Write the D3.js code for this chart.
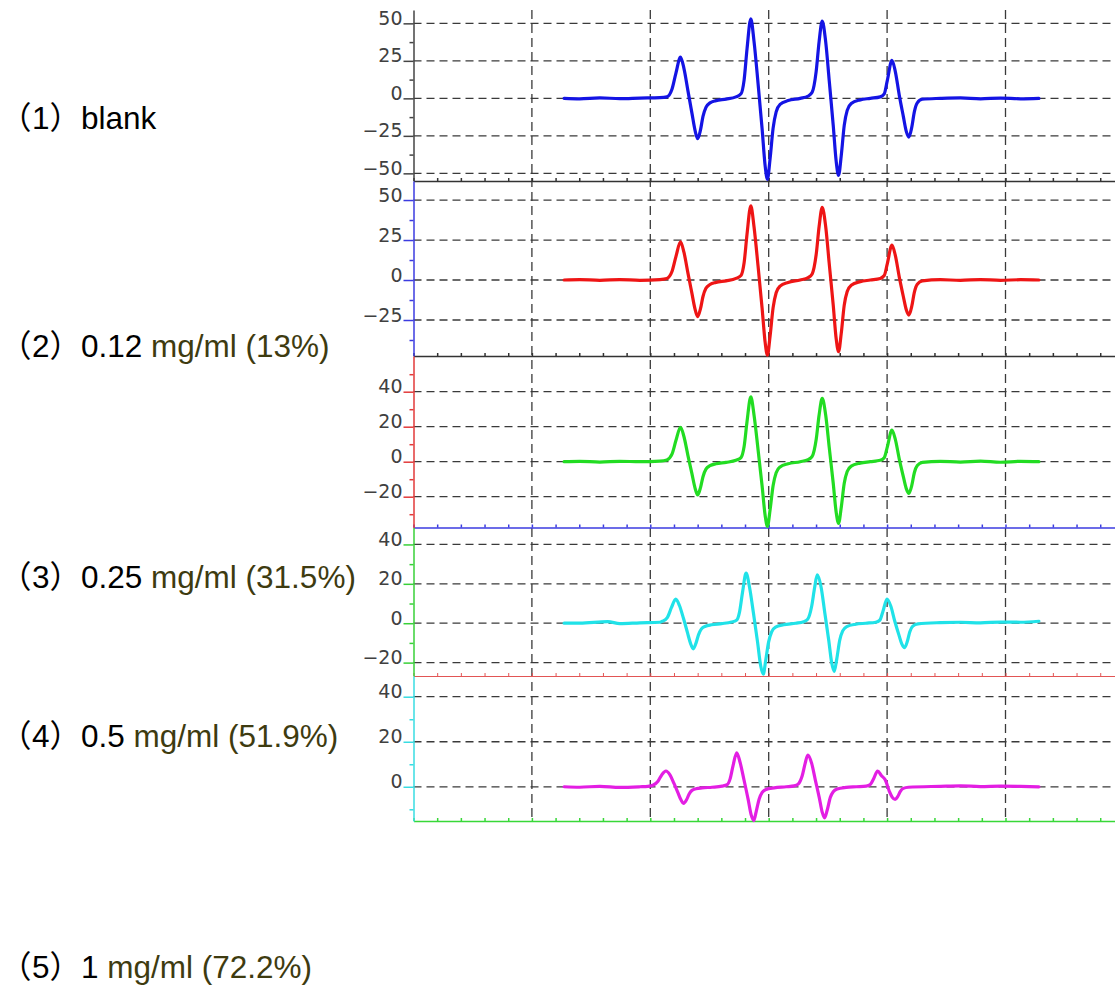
<!DOCTYPE html>
<html>
<head>
<meta charset="utf-8">
<script src="https://cdn.jsdelivr.net/npm/d3@7"></script>
<style>
  html, body { margin: 0; padding: 0; background: #fff; }
  svg { display: block; }
</style>
</head>
<body>
<svg id="chart" width="1115" height="987"></svg>
<script>
// ---- data: EPR spectra (field offset in G, signal in a.u.) ----
const sampleNo = ["1", "2", "3", "4", "5"];
const sampleConc = ["blank", "0.12", "0.25", "0.5", "1"];
const sampleUnit = ["", "mg/ml (13%)", "mg/ml (31.5%)", "mg/ml (51.9%)", "mg/ml (72.2%)"];

// field points shared by the first three scans
const fieldScanA = [12.72, 14.04, 15.74, 17.43, 19.12, 20.81, 21.40, 21.83, 22.17, 22.55, 22.84, 23.18,
  23.52, 23.77, 24.00, 24.24, 24.45, 24.70, 25.04, 25.55, 26.40, 27.24, 27.66, 27.92, 28.17, 28.49,
  28.76, 29.10, 29.44, 29.70, 29.89, 30.12, 30.37, 30.63, 30.96, 31.64, 32.66, 33.33, 33.67, 34.01,
  34.26, 34.52, 34.81, 35.11, 35.45, 35.70, 35.90, 36.13, 36.38, 36.63, 36.97, 37.73, 38.58, 39.42,
  39.76, 40.02, 40.41, 40.69, 41.03, 41.37, 41.62, 41.84, 42.09, 42.30, 42.55, 42.98, 44.50, 46.19,
  47.88, 49.58, 51.27, 52.82];
const fieldScanB = [12.72, 14.04, 16.41, 17.43, 19.12, 20.81, 21.02, 21.45, 21.79, 22.15, 22.46, 22.80,
  23.14, 23.39, 23.63, 23.86, 24.07, 24.32, 24.66, 25.17, 26.02, 26.86, 27.28, 27.54, 27.79, 28.09,
  28.38, 28.72, 29.06, 29.32, 29.54, 29.74, 29.99, 30.25, 30.58, 31.26, 32.28, 32.95, 33.29, 33.63,
  33.88, 34.10, 34.43, 34.73, 35.07, 35.32, 35.53, 35.75, 36.00, 36.25, 36.59, 37.35, 38.20, 39.04,
  39.38, 39.64, 39.99, 40.31, 40.65, 40.99, 41.24, 41.48, 41.71, 41.92, 42.17, 42.60, 44.50, 46.19,
  47.88, 49.58, 51.27, 52.82];
const fieldScanC = [12.72, 14.04, 15.74, 17.43, 19.12, 19.80, 20.22, 20.65, 20.99, 21.32, 21.66, 22.00,
  22.34, 22.59, 22.80, 23.06, 23.27, 23.52, 23.86, 24.37, 25.22, 26.06, 26.48, 26.74, 26.99, 27.30,
  27.58, 27.92, 28.26, 28.52, 28.74, 28.94, 29.19, 29.45, 29.78, 30.46, 31.48, 32.15, 32.49, 32.83,
  33.08, 33.30, 33.63, 33.93, 34.27, 34.52, 34.72, 34.95, 35.20, 35.45, 35.79, 36.55, 37.40, 38.24,
  38.58, 38.84, 39.20, 39.51, 39.85, 40.19, 40.44, 40.68, 40.91, 41.12, 41.37, 41.80, 44.50, 46.19,
  47.88, 49.58, 51.27, 52.82];

const signalBlank = [0, -0.3, 0.3, -0.2, 0.2, 0.5, 1, 6, 17, 27.5, 20, 5, -10, -21, -26.9, -21, -12, -6,
  -3, -1.5, -0.5, 1, 3, 12, 33, 53, 38, 10, -20, -45, -54, -40, -20, -9, -4, -1.5, 0, 1.5, 4, 18, 38,
  51.5, 38, 12, -18, -42, -51.3, -38, -18, -8, -3.5, -1, 0, 1, 3, 12, 25.3, 18, 2, -12, -22, -25.8, -19,
  -9, -3, -0.5, 0, 0.3, -0.3, 0.2, -0.3, 0];
const signal012 = [0, 0.3, -0.2, 0.3, -0.2, 0.3, 1, 5.3, 14.8, 23.9, 17.4, 4.3, -8.5, -17.9, -22.9, -17.9,
  -10.3, -5.2, -2.8, -1.5, -0.5, 1, 2.8, 10.6, 28.7, 46.3, 33.3, 8.8, -17.4, -39, -47, -34.8, -17.4, -8,
  -3.8, -1.5, 0, 1.5, 3.8, 15.9, 33.6, 45.4, 33.6, 10.4, -15.7, -36.7, -44.8, -33.2, -15.7, -7.2, -3.2,
  -1, 0, 1, 2.8, 10.3, 21.9, 15.5, 1.8, -10.3, -18.6, -21.9, -16.2, -7.7, -2.6, -0.5, 0.2, -0.2, 0.3,
  -0.2, 0.2, 0];
const signal025 = [0, 0.2, -0.2, 0.2, 0, 0.3, 1, 4.3, 12.2, 19.7, 14.4, 3.5, -7, -14.8, -19, -14.8, -8.6,
  -4.2, -2.3, -1.2, -0.4, 0.8, 2.3, 8.5, 23, 37.1, 26.7, 7, -13.7, -30.7, -37, -27.4, -13.7, -6.3, -3,
  -1.2, 0, 1.2, 3, 12.7, 26.8, 36.2, 26.8, 8.3, -12.3, -28.9, -35.2, -26, -12.3, -5.6, -2.5, -0.8, 0, 0.8,
  2.3, 8.5, 18.1, 12.9, 1.5, -8.5, -15.4, -18.1, -13.4, -6.3, -2.2, -0.4, 0.2, -0.2, 0.3, -0.3, 0.2, 0];
const signal05 = [0, 0, 0.8, -0.2, 0.2, 0.5, 1, 3, 8, 12.3, 9, 2.5, -4.8, -10.1, -13, -10.1, -5.9, -2.9,
  -1.5, -0.8, -0.2, 0.6, 1.5, 5.8, 15.7, 25.4, 18.3, 4.8, -9.6, -21.5, -25.9, -19.2, -9.6, -4.4, -2, -0.8,
  0, 0.8, 2, 8.6, 18.1, 24.5, 18.1, 5.6, -8.6, -20.1, -24.5, -18.1, -8.6, -3.9, -1.7, -0.5, 0, 0.5, 1.5,
  5.8, 12.3, 8.7, 1, -5.8, -10.5, -12.4, -9.2, -4.3, -1.5, -0.3, 0.3, 0.5, 0.2, 0.6, 0.5, 1];
const signal1 = [0, -0.2, 0.2, -0.3, 0, 0.2, 0.7, 2.5, 5.5, 7, 5.3, 1.5, -2.7, -5.8, -7.4, -5.8, -3.3, -1.6,
  -0.9, -0.5, -0.2, 0.3, 0.9, 3.5, 9.4, 15.1, 10.9, 2.9, -5.5, -12.5, -15, -11.1, -5.5, -2.5, -1.2, -0.5,
  0, 0.4, 1.2, 4.9, 10.4, 14.1, 10.4, 3.2, -4.8, -11.3, -13.8, -10.2, -4.8, -2.2, -1, -0.3, 0, 0.3, 1,
  3.3, 7, 5, 3, -2, -4.7, -5.6, -4.2, -2, -0.7, -0.2, 0.2, 0.4, 0.1, 0.3, 0.2, 0];

const yMajorTicks = [[-50, -25, 0, 25, 50], [-25, 0, 25, 50], [-20, 0, 20, 40], [-20, 0, 20, 40], [0, 20, 40]];
const yMinorTicks = [[-37.5, -12.5, 12.5, 37.5], [-37.5, -12.5, 12.5, 37.5], [-30, -10, 10, 30, 50],
  [-10, 10, 30], [-10, 10, 30]];
const yDomains = [[-55.1, 58.9], [-47.5, 61.9], [-37.6, 60.4], [-26.8, 48.6], [-15.2, 49.2]];
const xGridTicks = [10, 20, 30, 40, 50];

// ---- layout & style ----
const W = 1115, H = 987;
const plotLeft = 413.5, plotRight = 1115;
const panelEdges = [10, 181, 356, 527.5, 676, 821];
const traceColors = ["#1414e4", "#ee1515", "#22dc22", "#20e2e8", "#e31ee3"];
const leftAxisColors = ["#444", "#3b3be0", "#e23a3a", "#38d038", "#38dce2"];
const bottomAxisColors = ["#333", "#333", "#3b3be0", "#e25555", "#38d838"];
const labelBaselines = [129, 357, 588, 747, 978];

const fields = [fieldScanA, fieldScanA, fieldScanA, fieldScanB, fieldScanC];
const signals = [signalBlank, signal012, signal025, signal05, signal1];

const svg = d3.select("#chart");
svg.append("rect").attr("width", W).attr("height", H).attr("fill", "#fff");

const x = d3.scaleLinear().domain([0, (plotRight - plotLeft) / 11.84]).range([plotLeft, plotRight]);

// vertical dashed grid running through all panels
svg.append("g").selectAll("line").data(xGridTicks).join("line")
  .attr("x1", d => x(d)).attr("x2", d => x(d))
  .attr("y1", panelEdges[0]).attr("y2", panelEdges[5])
  .attr("stroke", "#3a3a3a").attr("stroke-width", 1.3).attr("stroke-dasharray", "9,5");

const minorX = d3.range(0, 60, 2);

signals.forEach((sig, i) => {
  const top = panelEdges[i], bottom = panelEdges[i + 1];
  const y = d3.scaleLinear().domain(yDomains[i]).range([bottom, top]);
  const g = svg.append("g");

  // horizontal dashed grid at the labelled values
  g.append("g").selectAll("line").data(yMajorTicks[i]).join("line")
    .attr("x1", plotLeft).attr("x2", plotRight)
    .attr("y1", d => y(d)).attr("y2", d => y(d))
    .attr("stroke", "#3a3a3a").attr("stroke-width", 1.3).attr("stroke-dasharray", "8,5");

  // bottom axis with small upward ticks
  const bx = g.append("g").attr("transform", `translate(0,${bottom})`)
    .call(d3.axisTop(x).tickValues(minorX).tickSize(3).tickSizeOuter(0).tickFormat(""));
  bx.selectAll("path, line").attr("stroke", bottomAxisColors[i]).attr("stroke-width", i === 3 ? 1 : 1.5);

  // left axis: minor ticks then labelled major ticks
  const lm = g.append("g").attr("transform", `translate(${plotLeft},0)`)
    .call(d3.axisLeft(y).tickValues(yMinorTicks[i]).tickSize(4).tickSizeOuter(0).tickFormat(""));
  lm.selectAll("path, line").attr("stroke", leftAxisColors[i]).attr("stroke-width", 1.5);

  const la = g.append("g").attr("transform", `translate(${plotLeft},0)`)
    .call(d3.axisLeft(y).tickValues(yMajorTicks[i]).tickSize(10).tickSizeOuter(0).tickPadding(1)
      .tickFormat(d3.format("d")));
  la.select(".domain").remove();
  la.selectAll("line").attr("stroke", leftAxisColors[i]).attr("stroke-width", 1.5);
  la.selectAll("text")
    .attr("dy", 1)
    .attr("fill", "#404040")
    .style("font-family", "'DejaVu Sans', sans-serif")
    .style("font-size", "19px");

  // spectrum trace
  const pts = d3.zip(fields[i], sig);
  g.append("path").datum(pts)
    .attr("fill", "none")
    .attr("stroke", traceColors[i])
    .attr("stroke-width", 3.2)
    .attr("stroke-linejoin", "round")
    .attr("stroke-linecap", "round")
    .attr("d", d3.line().x(d => x(d[0])).y(d => y(d[1])).curve(d3.curveMonotoneX));
});

// sample labels on the left
const labels = svg.append("g")
  .style("font-family", "'Liberation Sans', Arial, 'Noto Sans CJK SC', sans-serif")
  .style("font-size", "31.5px");
sampleNo.forEach((n, i) => {
  const t = labels.append("text").attr("y", labelBaselines[i]);
  t.append("tspan").attr("x", 0).attr("fill", "#000").text("（");
  t.append("tspan").attr("x", 32).attr("fill", "#000").text(`${n}）${sampleConc[i]}`);
  if (sampleUnit[i]) t.append("tspan").attr("fill", "#3e3b10").text(" " + sampleUnit[i]);
});
</script>
</body>
</html>
